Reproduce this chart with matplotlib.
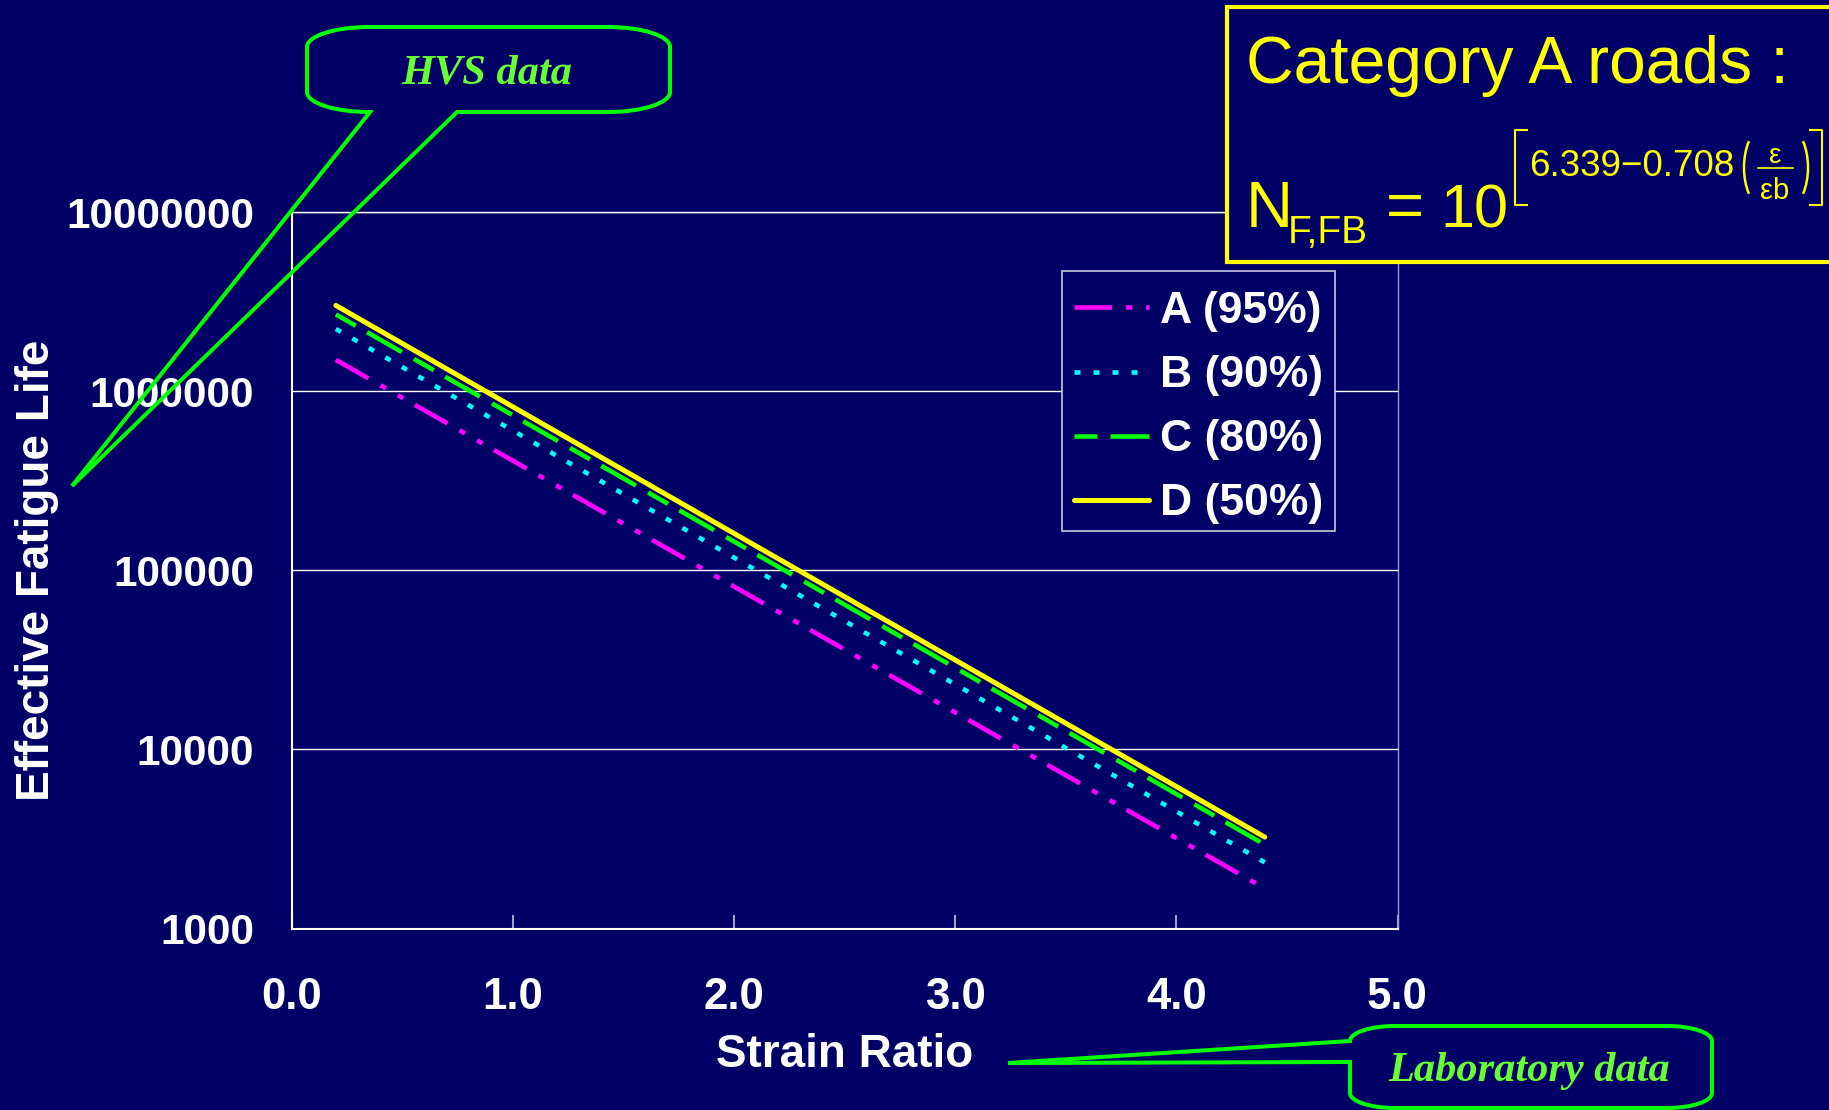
import matplotlib
matplotlib.use('Agg')
import matplotlib.pyplot as plt
from matplotlib.path import Path
from matplotlib.patches import PathPatch, Rectangle, Arc
from matplotlib.ticker import NullLocator

# ---------------- data ----------------
strain_ratio = [0.2, 1.0, 2.0, 3.0, 4.0, 4.4]
life_A = [1500000, 410000, 81300, 16100, 3200, 1675]
life_B = [2230000, 604000, 118000, 23100, 4510, 2340]
life_C = [2690000, 735000, 145000, 28600, 5640, 2940]
life_D = [3020000, 820000, 161000, 31600, 6210, 3240]
series_labels = ['A (95%)', 'B (90%)', 'C (80%)', 'D (50%)']
x_ticks = [0, 1, 2, 3, 4, 5]
x_tick_labels = ['0.0', '1.0', '2.0', '3.0', '4.0', '5.0']
y_ticks = [1000, 10000, 100000, 1000000, 10000000]
y_tick_labels = ['1000', '10000', '100000', '1000000', '10000000']

# ---------------- style ----------------
BG = '#000066'
W, H = 1829, 1110
plt.rcParams['font.family'] = ['Liberation Sans', 'DejaVu Sans']
plt.rcParams['lines.scale_dashes'] = False

fig = plt.figure(figsize=(W / 100, H / 100), dpi=100, facecolor=BG)
L, R, T, B = 291.6, 1397.5, 212.3, 928.5
ax = fig.add_axes([L / W, 1 - B / H, (R - L) / W, (B - T) / H])
ax.set_facecolor(BG)
ax.set_yscale('log')
ax.set_xlim(0, 5)
ax.set_ylim(1000, 10000000)

styles = [
    dict(color='#FF00FF', lw=3.3, dashes=(27, 10, 4.5, 10, 4.5, 9.5), dash_capstyle='butt'),
    dict(color='#00FFFF', lw=3.3, dashes=(4.3, 9.4), dash_capstyle='butt'),
    dict(color='#00FF00', lw=3.3, dashes=(16.5, 9.4, 28.8, 10), dash_capstyle='butt'),
    dict(color='#FFFF00', lw=3.6, ls='-', solid_capstyle='round'),
]
for vals, lab, st in zip([life_A, life_B, life_C, life_D], series_labels, styles):
    ax.plot(strain_ratio, vals, label=lab, **st)

ax.set_xticks(x_ticks)
ax.set_xticklabels(x_tick_labels)
ax.set_yticks(y_ticks)
ax.set_yticklabels(y_tick_labels)
ax.yaxis.set_minor_locator(NullLocator())
ax.tick_params(axis='x', direction='in', length=10, width=1.5, color='#A0A0C8',
               pad=35, labelsize=31.5, labelcolor='white')
ax.tick_params(axis='y', which='both', length=0, pad=27, labelsize=30.5, labelcolor='white')
for lbl in ax.get_xticklabels() + ax.get_yticklabels():
    lbl.set_fontweight('bold')

ax.grid(axis='y', color='white', lw=1.0)
ax.set_axisbelow(True)
ax.spines['left'].set_color('white')
ax.spines['left'].set_linewidth(1.5)
ax.spines['bottom'].set_color('white')
ax.spines['bottom'].set_linewidth(1.5)
ax.spines['top'].set_color('white')
ax.spines['top'].set_linewidth(1.0)
ax.spines['right'].set_color('#A0A0C8')
ax.spines['right'].set_linewidth(1.0)

# legend frame drawn separately for exact placement
ax.add_patch(Rectangle(((1062 - L) / (R - L), (B - 531) / (B - T)), 273 / (R - L), 260 / (B - T),
                       transform=ax.transAxes, facecolor=BG, edgecolor='#C8C8DC', lw=1.2,
                       zorder=4.5))
leg = ax.legend(loc='upper left', bbox_to_anchor=((1074 - L) / (R - L), (B - 291) / (B - T)),
                borderaxespad=0, borderpad=0, frameon=False,
                prop=dict(family='Liberation Sans', weight='bold', size=32),
                handlelength=1.69, handletextpad=0.25, labelspacing=0.52)
leg.set_zorder(5)
for t in leg.get_texts():
    t.set_color('white')

fig.text(37 / W, 1 - 570 / H, 'Effective Fatigue Life', rotation=90, ha='center',
         va='center', fontsize=33, fontweight='bold', color='white')
fig.text(844.5 / W, 1 - 1067 / H, 'Strain Ratio', ha='center', va='baseline',
         fontsize=33, fontweight='bold', color='white')

# ---------------- overlay (annotations) ----------------
ov = fig.add_axes([0, 0, 1, 1], zorder=10)
ov.set_xlim(0, W)
ov.set_ylim(H, 0)
ov.axis('off')
ov.patch.set_alpha(0)

YEL = '#FFFF00'
ov.add_patch(Rectangle((1227, 7), 700, 255, facecolor=BG, edgecolor=YEL, lw=3, clip_on=False))
ov.text(1246, 83, 'Category A roads :', fontsize=47.5, color=YEL, ha='left', va='baseline')
ov.text(1246, 227, 'N', fontsize=47, color=YEL, ha='left', va='baseline')
ov.text(1288, 243, 'F,FB', fontsize=28, color=YEL, ha='left', va='baseline')
ov.text(1386, 227, '=', fontsize=47, color=YEL, ha='left', va='baseline')
ov.text(1440, 227, '10', fontsize=44, color=YEL, ha='left', va='baseline')
# exponent [6.339-0.708(e/eb)]
ov.plot([1527, 1515, 1515, 1527], [130, 130, 205, 205], color=YEL, lw=1.5)
ov.text(1529, 176, '6.339\u22120.708', fontsize=26.5, color=YEL, ha='left', va='baseline')
ov.add_patch(Arc((1763, 167.5), 38, 78, theta1=118, theta2=242, color=YEL, lw=1.8))
ov.text(1775, 163, '\u03b5', fontsize=20, color=YEL, ha='center', va='baseline')
ov.plot([1758, 1793], [167.5, 167.5], color=YEL, lw=1.2)
ov.text(1775, 199, '\u03b5b', fontsize=21, color=YEL, ha='center', va='baseline')
ov.add_patch(Arc((1789, 167.5), 38, 78, theta1=-62, theta2=62, color=YEL, lw=1.8))
ov.plot([1810, 1822, 1822, 1810], [130, 130, 205, 205], color=YEL, lw=1.5)

K = 0.5523


def callout_path(x0, y0, x1, y1, rx, ry, pointer, side):
    v, c = [], []

    def mv(p):
        v.append(p); c.append(Path.MOVETO)

    def ln(p):
        v.append(p); c.append(Path.LINETO)

    def cv(p1, p2, p3):
        v.extend([p1, p2, p3]); c.extend([Path.CURVE4] * 3)

    mv((x0 + rx, y0))
    ln((x1 - rx, y0))
    cv((x1 - rx + K * rx, y0), (x1, y0 + ry - K * ry), (x1, y0 + ry))
    ln((x1, y1 - ry))
    cv((x1, y1 - ry + K * ry), (x1 - rx + K * rx, y1), (x1 - rx, y1))
    if side == 'bottom':
        b1, tip, b2 = pointer
        ln(b2); ln(tip); ln(b1)
    ln((x0 + rx, y1))
    cv((x0 + rx - K * rx, y1), (x0, y1 - ry + K * ry), (x0, y1 - ry))
    if side == 'left':
        lower, tip, upper = pointer
        ln(lower); ln(tip); ln(upper)
    ln((x0, y0 + ry))
    cv((x0, y0 + ry - K * ry), (x0 + rx - K * rx, y0), (x0 + rx, y0))
    c.append(Path.CLOSEPOLY); v.append((x0 + rx, y0))
    return Path(v, c)


GRN = '#00FF00'
TXT_G = '#66FF33'
hvs = callout_path(307, 27, 670, 112, 62, 20,
                   ((370, 112), (72, 486), (457, 112)), 'bottom')
ov.add_patch(PathPatch(hvs, facecolor='none', edgecolor=GRN, lw=2.9, joinstyle='miter',
                       clip_on=False))
ov.text(487, 83, 'HVS data', family='Liberation Serif', style='italic', fontweight='bold',
        fontsize=30.5, color=TXT_G, ha='center', va='baseline')

lab = callout_path(1350, 1026, 1712, 1108, 45, 15,
                   ((1350, 1062), (1008, 1063), (1350, 1041)), 'left')
ov.add_patch(PathPatch(lab, facecolor='none', edgecolor=GRN, lw=2.9, joinstyle='miter',
                       clip_on=False))
ov.text(1529, 1081, 'Laboratory data', family='Liberation Serif', style='italic',
        fontweight='bold', fontsize=30.5, color=TXT_G, ha='center', va='baseline')

fig.savefig('out.png', dpi=100, facecolor=BG)
